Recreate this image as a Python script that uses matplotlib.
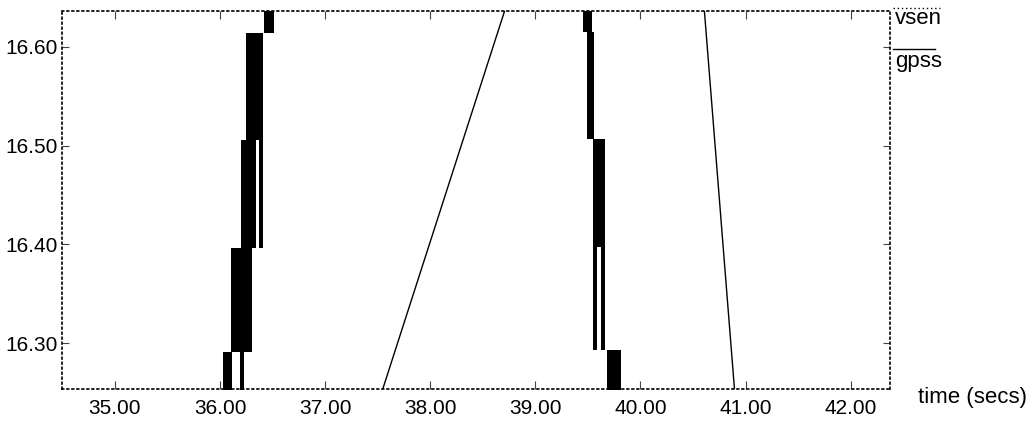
import numpy as np
import matplotlib
matplotlib.use("Agg")
import matplotlib.pyplot as plt
from matplotlib.lines import Line2D

plt.rcParams["font.family"] = ["Liberation Sans Narrow", "Liberation Sans", "DejaVu Sans"]

# gpss: dense switching signal, drawn as filled bands (time span per level range)
gpss_lo = [16.25, 16.25, 16.291, 16.396, 16.396, 16.506, 16.614,
           16.615, 16.507, 16.397, 16.293, 16.293, 16.25]
gpss_hi = [16.291, 16.291, 16.396, 16.506, 16.506, 16.614, 16.64,
           16.64, 16.615, 16.507, 16.397, 16.397, 16.293]
gpss_t0 = [36.027, 36.188, 36.103, 36.198, 36.369, 36.245, 36.416,
           39.449, 39.487, 39.544, 39.544, 39.620, 39.686]
gpss_t1 = [36.112, 36.226, 36.302, 36.340, 36.407, 36.407, 36.511,
           39.534, 39.553, 39.667, 39.582, 39.667, 39.819]

# vsen: ramps (NaN = out of visible range)
vsen_t = [37.548, 38.707, np.nan, 40.608, 40.894]
vsen_v = [16.2534, 16.6364, np.nan, 16.6364, 16.2534]

xticks = [35, 36, 37, 38, 39, 40, 41, 42]
xlabels = ["35.00", "36.00", "37.00", "38.00", "39.00", "40.00", "41.00", "42.00"]
yticks = [16.30, 16.40, 16.50, 16.60]
ylabels = ["16.30", "16.40", "16.50", "16.60"]

fig = plt.figure(figsize=(10.36, 4.32), dpi=100)
ax = fig.add_axes([0.0598, 0.0995, 0.799, 0.875])

for lo, hi, t0, t1 in zip(gpss_lo, gpss_hi, gpss_t0, gpss_t1):
    ax.fill_betweenx([lo, hi], t0, t1, color="black", linewidth=0)

ax.plot(vsen_t, vsen_v, color="black", linewidth=1.0)

ax.set_xlim(34.496, 42.371)
ax.set_ylim(16.2534, 16.6364)
ax.set_xticks(xticks)
ax.set_xticklabels(xlabels, fontsize=15)
ax.set_yticks(yticks)
ax.set_yticklabels(ylabels, fontsize=15)
ax.tick_params(axis="x", direction="in", length=6, width=0.8, top=True, pad=7,
               color="#444444")
ax.tick_params(axis="y", direction="in", length=5, width=0.8, right=True, pad=3,
               color="#444444")

for s in ax.spines.values():
    s.set_linestyle((0, (1, 2)))
    s.set_linewidth(1.2)

# legend-like labels at the right
fig.text(895 / 1036, 1 - 18 / 432, "vsen", fontsize=16, va="center", ha="left")
fig.text(895 / 1036, 1 - 62 / 432, "gpss", fontsize=16, va="center", ha="left")
fig.add_artist(Line2D([893 / 1036, 940 / 1036], [1 - 8 / 432, 1 - 8 / 432],
                      color="black", linewidth=1, linestyle=(0, (1, 2))))
fig.add_artist(Line2D([893 / 1036, 935 / 1036], [1 - 49 / 432, 1 - 49 / 432],
                      color="black", linewidth=1))
fig.text(918 / 1036, 1 - 398 / 432, "time (secs)", fontsize=16, va="center", ha="left")

fig.savefig("out.png", dpi=100)
